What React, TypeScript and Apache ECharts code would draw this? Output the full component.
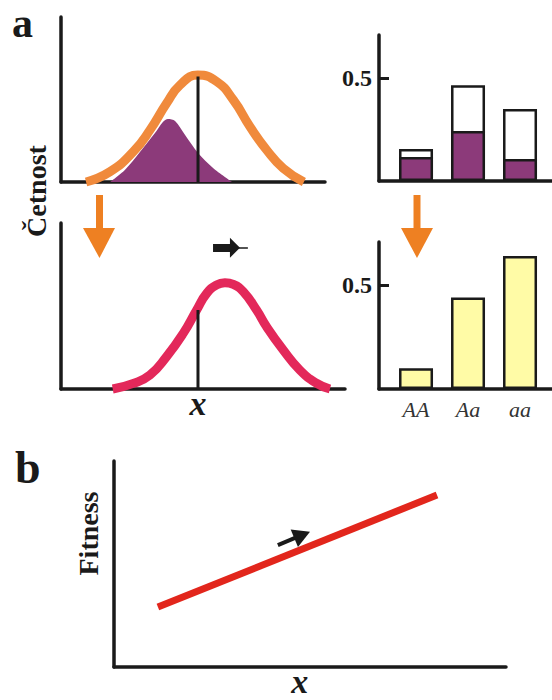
import React, { useEffect, useRef } from "react";
import * as echarts from "echarts";

// ---- Panel a, left: trait distribution before selection (orange) ----
const traitBefore = [9.5, 18.6, 27.4, 33.7, 40.0, 45.1, 51.8, 59.0, 65.3, 71.6, 77.9, 84.2, 92.0];
const freqBefore = [0, 6.3, 18.4, 31.5, 47.7, 58.8, 64.8, 60.8, 49.7, 33.5, 19.4, 8.3, 0];
// survivors (purple area)
const traitSurvivors = [18.6, 24.2, 29.9, 35.6, 38.6, 40.5, 43.2, 47.0, 51.9, 57.6, 64.8];
const freqSurvivors = [0, 7.3, 18.2, 29.7, 36.4, 38.2, 37.0, 28.5, 17.6, 8.5, 0];
// distribution in next generation (crimson)
const traitAfter = [19.6, 27.4, 33.7, 40.0, 46.3, 51.4, 55.2, 59.0, 62.1, 65.3, 69.1, 74.1, 77.9, 84.2, 90.5, 96.9, 101.9];
const freqAfter = [0, 3.4, 8.4, 19.5, 33.5, 47.6, 57.6, 62.7, 64, 63, 58.6, 47.6, 37.5, 23.5, 11.4, 3.4, 0];
const meanBefore = 51.9;
const meanHeightBefore = 64;
const meanHeightAfter = 47.6;
// shift arrow (bottom-left panel)
const shiftArrowX = [57.6, 65.9];
const shiftTailX = [64, 70.8];
const shiftArrowY = 85.1;

// ---- Panel a, right: genotype frequencies ----
const genotypes = ["AA", "Aa", "aa"];
const genotypePos = [1, 2, 3];
const freqGenoBefore = [0.155, 0.465, 0.35];
const freqGenoSurvivors = [0.117, 0.243, 0.107];
const freqGenoAfter = [0.1, 0.44, 0.64];
const freqTicks = [0.5];

// ---- Panel b: fitness line ----
const fitnessX = [11.2, 82.4];
const fitnessY = [29.1, 83.5];
const fitnessArrowX = [41.8, 48.0];
const fitnessArrowY = [59.2, 64.1];
const traitLabelPosB = 47.4;

const INK = "#1a1a1a";
const ORANGE = "#F08A3C";
const ORANGE_ARROW = "#EE8022";
const PURPLE = "#8C3A7A";
const CRIMSON = "#E3285A";
const YELLOW = "#FFFBA6";
const RED = "#E2261C";
const SERIF = "Liberation Serif";

const zip = (xs: number[], ys: number[]) => xs.map((x, i) => [x, ys[i]]);

function baseAxis(gridIndex: number, min: number, max: number, extra: any = {}) {
  return {
    type: "value",
    gridIndex,
    min,
    max,
    axisLine: { show: true, onZero: false, lineStyle: { color: INK, width: 3.5 } },
    axisTick: { show: false },
    axisLabel: { show: false },
    splitLine: { show: false },
    ...extra,
  };
}

function label(text: string, x: number, y: number, size: number, rotate = false) {
  return {
    type: "text",
    x,
    y,
    rotation: rotate ? Math.PI / 2 : 0,
    style: {
      text,
      fill: INK,
      fontFamily: SERIF,
      fontWeight: "bold",
      fontSize: size,
      align: rotate ? "center" : "left",
      verticalAlign: "middle",
    },
  };
}

export default function App() {
  const ref = useRef<HTMLDivElement>(null);

  useEffect(() => {
    if (!ref.current) return;
    const chart = echarts.init(ref.current, undefined, { renderer: "svg" });

    const freqYAxis = (gridIndex: number, max: number) =>
      baseAxis(gridIndex, 0, max, {
        axisTick: {
          show: true,
          inside: true,
          length: 10,
          customValues: freqTicks,
          lineStyle: { color: INK, width: 3 },
        },
        axisLabel: {
          show: true,
          customValues: freqTicks,
          formatter: (v: number) => String(v),
          margin: 7,
          color: INK,
          fontFamily: SERIF,
          fontWeight: "bold",
          fontSize: 24,
        },
      });

    const option: any = {
      animation: false,
      backgroundColor: "#ffffff",
      grid: [
        { left: 61, top: 17, width: 264, height: 165 },
        { left: 61, top: 223, width: 284, height: 166 },
        { left: 379, top: 35, width: 173, height: 146 },
        { left: 379, top: 242, width: 173, height: 147 },
        { left: 114, top: 461, width: 392, height: 206 },
      ],
      xAxis: [
        baseAxis(0, 0, 100),
        baseAxis(1, 0, 107.6, {
          axisLabel: {
            show: true,
            customValues: [meanBefore],
            formatter: () => "x",
            margin: 4,
            lineHeight: 20,
            color: INK,
            fontFamily: SERIF,
            fontStyle: "italic",
            fontWeight: "bold",
            fontSize: 34,
          },
        }),
        baseAxis(2, 0.288, 3.615),
        baseAxis(3, 0.288, 3.615, {
          axisLabel: {
            show: true,
            customValues: genotypePos,
            formatter: (v: number) => genotypes[Math.round(v) - 1] ?? "",
            margin: 9,
            color: "#333333",
            fontFamily: SERIF,
            fontStyle: "italic",
            fontSize: 22,
          },
        }),
        baseAxis(4, 0, 100, {
          axisLabel: {
            show: true,
            customValues: [traitLabelPosB],
            formatter: () => "x",
            margin: 4,
            lineHeight: 20,
            color: INK,
            fontFamily: SERIF,
            fontStyle: "italic",
            fontWeight: "bold",
            fontSize: 34,
          },
        }),
      ],
      yAxis: [
        baseAxis(0, 0, 100),
        baseAxis(1, 0, 100),
        freqYAxis(2, 0.709),
        freqYAxis(3, 0.707),
        baseAxis(4, 0, 100),
      ],
      series: [
        {
          type: "line",
          xAxisIndex: 0,
          yAxisIndex: 0,
          data: zip(traitSurvivors, freqSurvivors),
          smooth: 0.3,
          symbol: "none",
          lineStyle: { width: 0 },
          areaStyle: { color: PURPLE, opacity: 1 },
          silent: true,
        },
        {
          type: "line",
          xAxisIndex: 0,
          yAxisIndex: 0,
          data: zip(traitBefore, freqBefore),
          smooth: 0.5,
          symbol: "none",
          clip: false,
          lineStyle: { color: ORANGE, width: 9 },
          silent: true,
        },
        {
          type: "line",
          xAxisIndex: 0,
          yAxisIndex: 0,
          data: [
            [meanBefore, 0],
            [meanBefore, meanHeightBefore],
          ],
          symbol: "none",
          lineStyle: { color: INK, width: 3 },
          silent: true,
        },
        {
          type: "line",
          xAxisIndex: 1,
          yAxisIndex: 1,
          data: zip(traitAfter, freqAfter),
          smooth: 0.5,
          symbol: "none",
          clip: false,
          lineStyle: { color: CRIMSON, width: 9 },
          silent: true,
        },
        {
          type: "line",
          xAxisIndex: 1,
          yAxisIndex: 1,
          data: [
            [meanBefore, 0],
            [meanBefore, meanHeightAfter],
          ],
          symbol: "none",
          lineStyle: { color: INK, width: 3 },
          silent: true,
          markLine: {
            silent: true,
            label: { show: false },
            emphasis: { disabled: true },
            data: [
              [
                {
                  coord: [shiftTailX[0], shiftArrowY],
                  symbol: "none",
                  lineStyle: { color: INK, width: 1.5, type: "solid" },
                },
                { coord: [shiftTailX[1], shiftArrowY], symbol: "none" },
              ],
              [
                {
                  coord: [shiftArrowX[0], shiftArrowY],
                  symbol: "none",
                  lineStyle: { color: INK, width: 8, type: "solid" },
                },
                {
                  coord: [shiftArrowX[1], shiftArrowY],
                  symbol: "triangle",
                  symbolSize: [20, 10],
                },
              ],
            ],
          },
        },
        {
          type: "bar",
          xAxisIndex: 2,
          yAxisIndex: 2,
          data: zip(genotypePos, freqGenoBefore),
          barWidth: 34,
          itemStyle: { color: "#ffffff", borderColor: INK, borderWidth: 2.5 },
          silent: true,
        },
        {
          type: "bar",
          xAxisIndex: 2,
          yAxisIndex: 2,
          data: zip(genotypePos, freqGenoSurvivors),
          barWidth: 34,
          barGap: "-100%",
          itemStyle: { color: PURPLE, borderColor: INK, borderWidth: 2.5 },
          silent: true,
        },
        {
          type: "bar",
          xAxisIndex: 3,
          yAxisIndex: 3,
          data: zip(genotypePos, freqGenoAfter),
          barWidth: 34,
          itemStyle: { color: YELLOW, borderColor: INK, borderWidth: 2.5 },
          silent: true,
        },
        {
          type: "line",
          xAxisIndex: 4,
          yAxisIndex: 4,
          data: zip(fitnessX, fitnessY),
          symbol: "none",
          lineStyle: { color: RED, width: 7 },
          silent: true,
          markLine: {
            silent: true,
            label: { show: false },
            emphasis: { disabled: true },
            data: [
              [
                {
                  coord: [fitnessArrowX[0], fitnessArrowY[0]],
                  symbol: "none",
                  lineStyle: { color: INK, width: 4, type: "solid" },
                },
                {
                  coord: [fitnessArrowX[1], fitnessArrowY[1]],
                  symbol: "triangle",
                  symbolSize: [19, 17],
                },
              ],
            ],
          },
        },
      ],
      graphic: [
        label("a", 12, 23, 42),
        label("b", 15, 467.4, 46),
        label("Četnost", 36, 191, 28, true),
        label("Fitness", 88, 533.5, 28, true),
        // orange arrows between rows
        { type: "rect", shape: { x: 96, y: 195, width: 7, height: 34 }, style: { fill: ORANGE_ARROW } },
        {
          type: "polygon",
          shape: { points: [[83, 228], [115, 228], [99.5, 258]] },
          style: { fill: ORANGE_ARROW },
        },
        { type: "rect", shape: { x: 413.5, y: 195, width: 7, height: 34 }, style: { fill: ORANGE_ARROW } },
        {
          type: "polygon",
          shape: { points: [[401, 228], [433, 228], [417, 258]] },
          style: { fill: ORANGE_ARROW },
        },
      ],
    };

    chart.setOption(option);
    return () => chart.dispose();
  }, []);

  return (
    <div
      ref={ref}
      style={{ position: "absolute", left: 0, top: 0, width: 552, height: 700 }}
    />
  );
}
